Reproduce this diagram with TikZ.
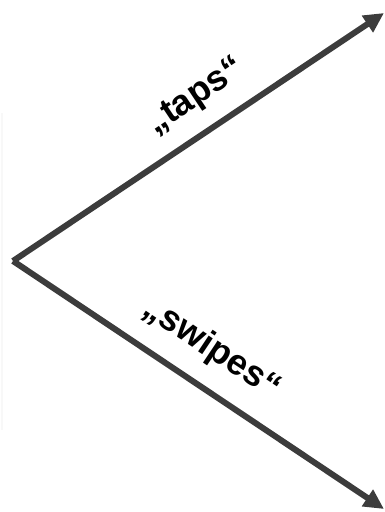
\documentclass[tikz,border=0pt]{standalone}
\usepackage{fontspec}
\setmainfont{Liberation Sans}
\usetikzlibrary{arrows.meta}
\definecolor{arrowgray}{RGB}{60,60,60}
\definecolor{faintgray}{RGB}{248,248,248}
\tikzset{
  bigarrow/.style={draw=arrowgray, line width=6pt, -{Triangle[length=20pt,width=19pt]}},
  lbl/.style={font=\bfseries\fontsize{36}{42}\selectfont, inner sep=0pt},
}
\begin{document}
\begin{tikzpicture}[x=1pt,y=1pt]
\useasboundingbox (0,0) rectangle (384,512);
\draw[faintgray, line width=1.2pt] (2,512-113) -- (2,512-430);
\coordinate (v) at (13,512-261);
\coordinate (t1) at (384,512-13);
\coordinate (t2) at (384,512-509);
\draw[bigarrow] (v) -- (t1);
\draw[bigarrow] (v) -- (t2);
\node[lbl, rotate=33.7] (taps) at (196,512-97) {„taps“};
\node[lbl, rotate=-33.7] (swipes) at (212,512-349) {„swipes“};
\end{tikzpicture}
\end{document}
